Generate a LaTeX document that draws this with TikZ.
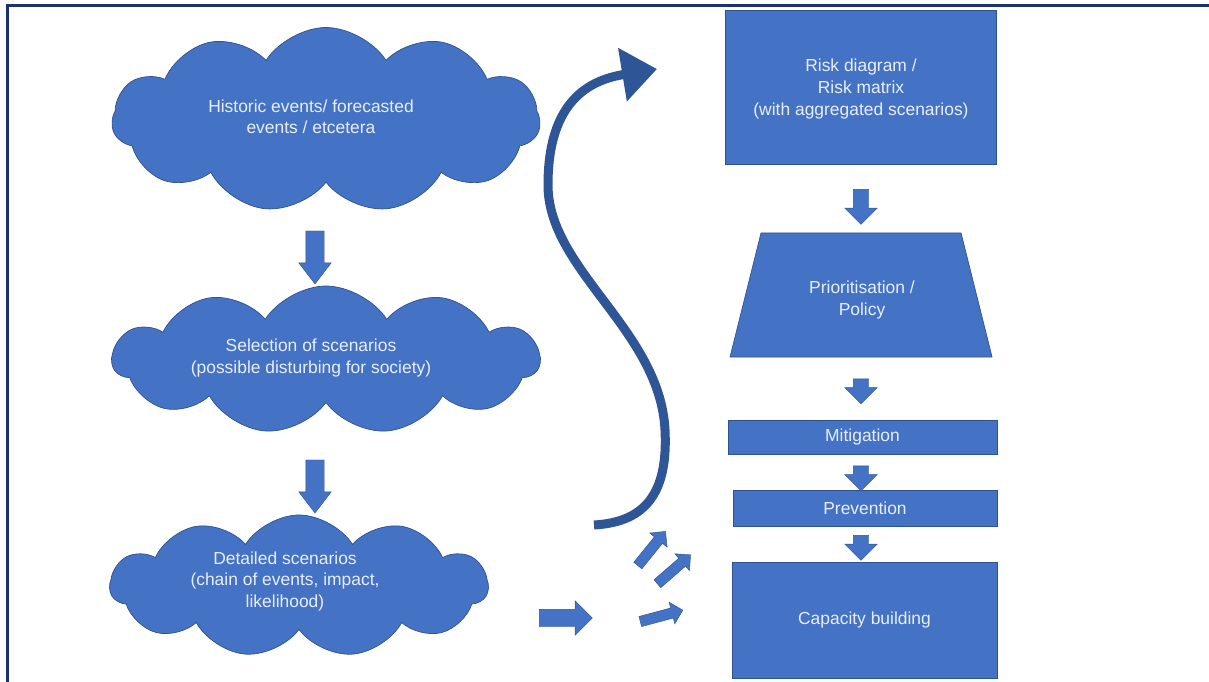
\documentclass[tikz,border=0pt]{standalone}
\usepackage{fontspec}
\setmainfont{Liberation Sans}
\usetikzlibrary{arrows.meta,shapes.symbols,shapes.arrows}
\definecolor{boxblue}{RGB}{68,114,196}
\definecolor{edgeblue}{RGB}{47,82,143}
\definecolor{curveblue}{RGB}{46,85,150}
\definecolor{framenavy}{RGB}{28,50,112}
\definecolor{paletext}{RGB}{232,238,248}

\begin{document}
\begin{tikzpicture}[x=0.025cm, y=-0.025cm,
  every node/.style={font=\fontsize{12.4}{15.3}\selectfont, text=paletext},
  blob/.style={cloud, cloud puffs=11, cloud puff arc=115, fill=boxblue, draw=edgeblue, line width=0.5pt, inner sep=0pt},
  box/.style={rectangle, fill=boxblue, draw=edgeblue, line width=0.5pt, align=center, inner sep=0pt},
  ptext/.style={align=center},
  blockarrow/.style={single arrow, fill=boxblue, draw=edgeblue, line width=0.3pt},
  bigdown/.style={blockarrow, rotate=-90, inner sep=0.225cm, single arrow head extend=0.175cm, single arrow tip angle=75, minimum height=1.325cm},
  smalldown/.style={blockarrow, rotate=-90, inner sep=0.1875cm, single arrow head extend=0.2125cm, minimum height=0.625cm},
  tinyarrow/.style={blockarrow, inner sep=0.125cm, single arrow head extend=0.15cm, minimum height=1.1cm}]

  \useasboundingbox (0,0) rectangle (1209,682);
  \draw[framenavy, line width=0.075cm] (1209,5.5) -- (7.5,5.5) -- (7.5,682);

  % left column: clouds
  \node[blob, minimum width=10.7cm, minimum height=4.625cm] (hist) at (326,120) {};
  \node[blob, minimum width=10.675cm, minimum height=3.7cm] (sel) at (326,360) {};
  \node[blob, minimum width=9.45cm, minimum height=3.55cm] (det) at (299,586) {};
  \node[ptext] (histtxt) at (311,117) {Historic events/ forecasted\\events / etcetera};
  \node[ptext] (seltxt) at (311,358) {Selection of scenarios\\(possible disturbing for society)};
  \node[ptext] (dettxt) at (285,581) {Detailed scenarios\\(chain of events, impact,\\likelihood)};

  \node[bigdown] (down1) at (315,251.5) {};
  \node[bigdown] (down2) at (315,480.5) {};

  % arrows towards the right column
  \node[blockarrow, inner sep=0.2125cm, single arrow head extend=0.2125cm, minimum height=1.325cm] (fwd) at (561.5,618) {};
  \node[tinyarrow, rotate=51] (tiny1) at (650,550.5) {};
  \node[tinyarrow, rotate=41] (tiny2) at (672,571) {};
  \node[tinyarrow, rotate=15] (tiny3) at (659,616.5) {};

  \coordinate (cstart) at (594,525);
  \coordinate (ctip) at (657,69);
  \draw[curveblue, line width=0.225cm, -{Triangle[length=0.875cm, width=1.3cm]}]
    (cstart) .. controls (648,522) and (668,490) .. (665,430)
    .. controls (660,330) and (548,270) .. (548,185)
    .. controls (548,100) and (590,80) .. (ctip);

  % right column
  \node[box, minimum width=6.775cm, minimum height=3.85cm] (risk) at (860.5,87) {};
  \node[ptext] (risktxt) at (861,89) {Risk diagram /\\Risk matrix\\(with aggregated scenarios)};
  \filldraw[fill=boxblue, draw=edgeblue, line width=0.5pt]
    (761,233) -- (961,233) -- (992,357) -- (730,357) -- cycle;
  \node[ptext] (prio) at (862,300) {Prioritisation /\\Policy};
  \node[box, minimum width=6.725cm, minimum height=0.85cm] (mitig) at (862.5,437) {Mitigation};
  \node[box, minimum width=6.6cm, minimum height=0.9cm] (prev) at (865,508.5) {Prevention};
  \node[box, minimum width=6.625cm, minimum height=2.9cm] (cap) at (864.5,620) {Capacity building};

  \node[smalldown, minimum height=0.875cm] (down3) at (861,203) {};
  \node[smalldown] (down4) at (861,387.5) {};
  \node[smalldown] (down5) at (861,474.5) {};
  \node[smalldown] (down6) at (861,544) {};
\end{tikzpicture}
\end{document}
